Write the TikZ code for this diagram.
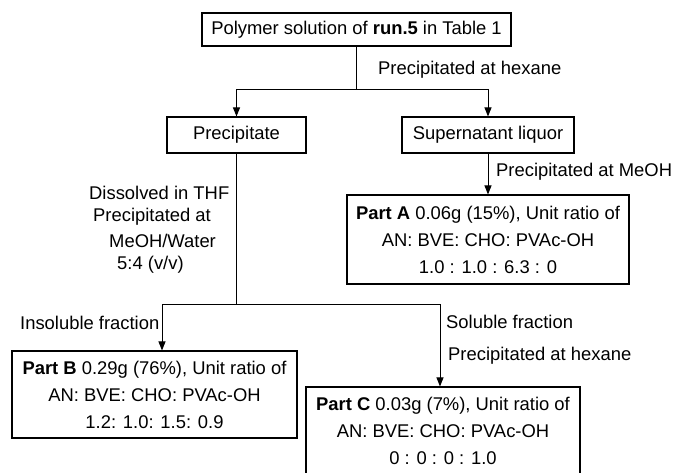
\documentclass[tikz,border=0pt]{standalone}
\usepackage{fontspec}
\setmainfont{Liberation Sans}
\usetikzlibrary{arrows.meta}
\begin{document}
\begin{tikzpicture}[x=1pt,y=-1pt,
  box/.style={draw, line width=1.1pt, inner sep=0pt, align=center, font=\fontsize{18.4}{22}\selectfont},
  partbox/.style={box, font=\fontsize{18.4}{27}\selectfont},
  lbl/.style={inner sep=0pt, anchor=west, font=\fontsize{18.4}{22}\selectfont},
  link/.style={line width=1pt},
  arr/.style={link, -{Triangle[length=9pt,width=7pt]}}]
\useasboundingbox (0,0) rectangle (675,472);
\clip (0,0) rectangle (675,472);

\node[box, minimum width=309pt, minimum height=33pt] (top) at (356.5,29.5) {Polymer solution of \textbf{run.5} in Table 1};
\node[box, minimum width=139pt, minimum height=36pt] (prec) at (236.5,135) {Precipitate};
\node[box, minimum width=172pt, minimum height=36pt] (sup) at (488,135) {Supernatant liquor};
\node[partbox, minimum width=282pt, minimum height=89pt] (partA) at (488,239.5) {\textbf{Part A} 0.06g (15\%), Unit ratio of\\AN: BVE: CHO: PVAc-OH\\1.0 : 1.0 : 6.3 : 0};
\node[partbox, minimum width=285pt, minimum height=87pt] (partB) at (154.5,394.5) {\textbf{Part B} 0.29g (76\%), Unit ratio of\\AN: BVE: CHO: PVAc-OH\\1.2: 1.0: 1.5: 0.9};
\node[partbox, minimum width=274pt, minimum height=87pt] (partC) at (443,430.5) {\textbf{Part C} 0.03g (7\%), Unit ratio of\\AN: BVE: CHO: PVAc-OH\\0 : 0 : 0 : 1.0};

\coordinate (j1) at (356.5,89);
\coordinate (j2) at (236.5,304);

\draw[link] (top.south) -- (j1);
\draw[arr] (j1) -| (prec.north);
\draw[arr] (j1) -| (sup.north);
\draw[arr] (sup.south) -- (partA.north);
\draw[link] (prec.south) -- (j2);
\draw[arr] (j2) -| ([xshift=7.5pt]partB.north);
\draw[arr] (j2) -| ([xshift=-3pt]partC.north);

\node[lbl] (l1) at (378,70) {Precipitated at hexane};
\node[lbl] (l2) at (496,172) {Precipitated at MeOH};
\node[lbl] (l3) at (89,193) {Dissolved in THF};
\node[lbl] (l4) at (93,217) {Precipitated at};
\node[lbl] (l5) at (109,241) {MeOH/Water};
\node[lbl] (l6) at (117,265) {5:4 (v/v)};
\node[lbl] (l7) at (20,323) {Insoluble fraction};
\node[lbl] (l8) at (446,322) {Soluble fraction};
\node[lbl] (l9) at (448,356) {Precipitated at hexane};
\end{tikzpicture}
\end{document}
